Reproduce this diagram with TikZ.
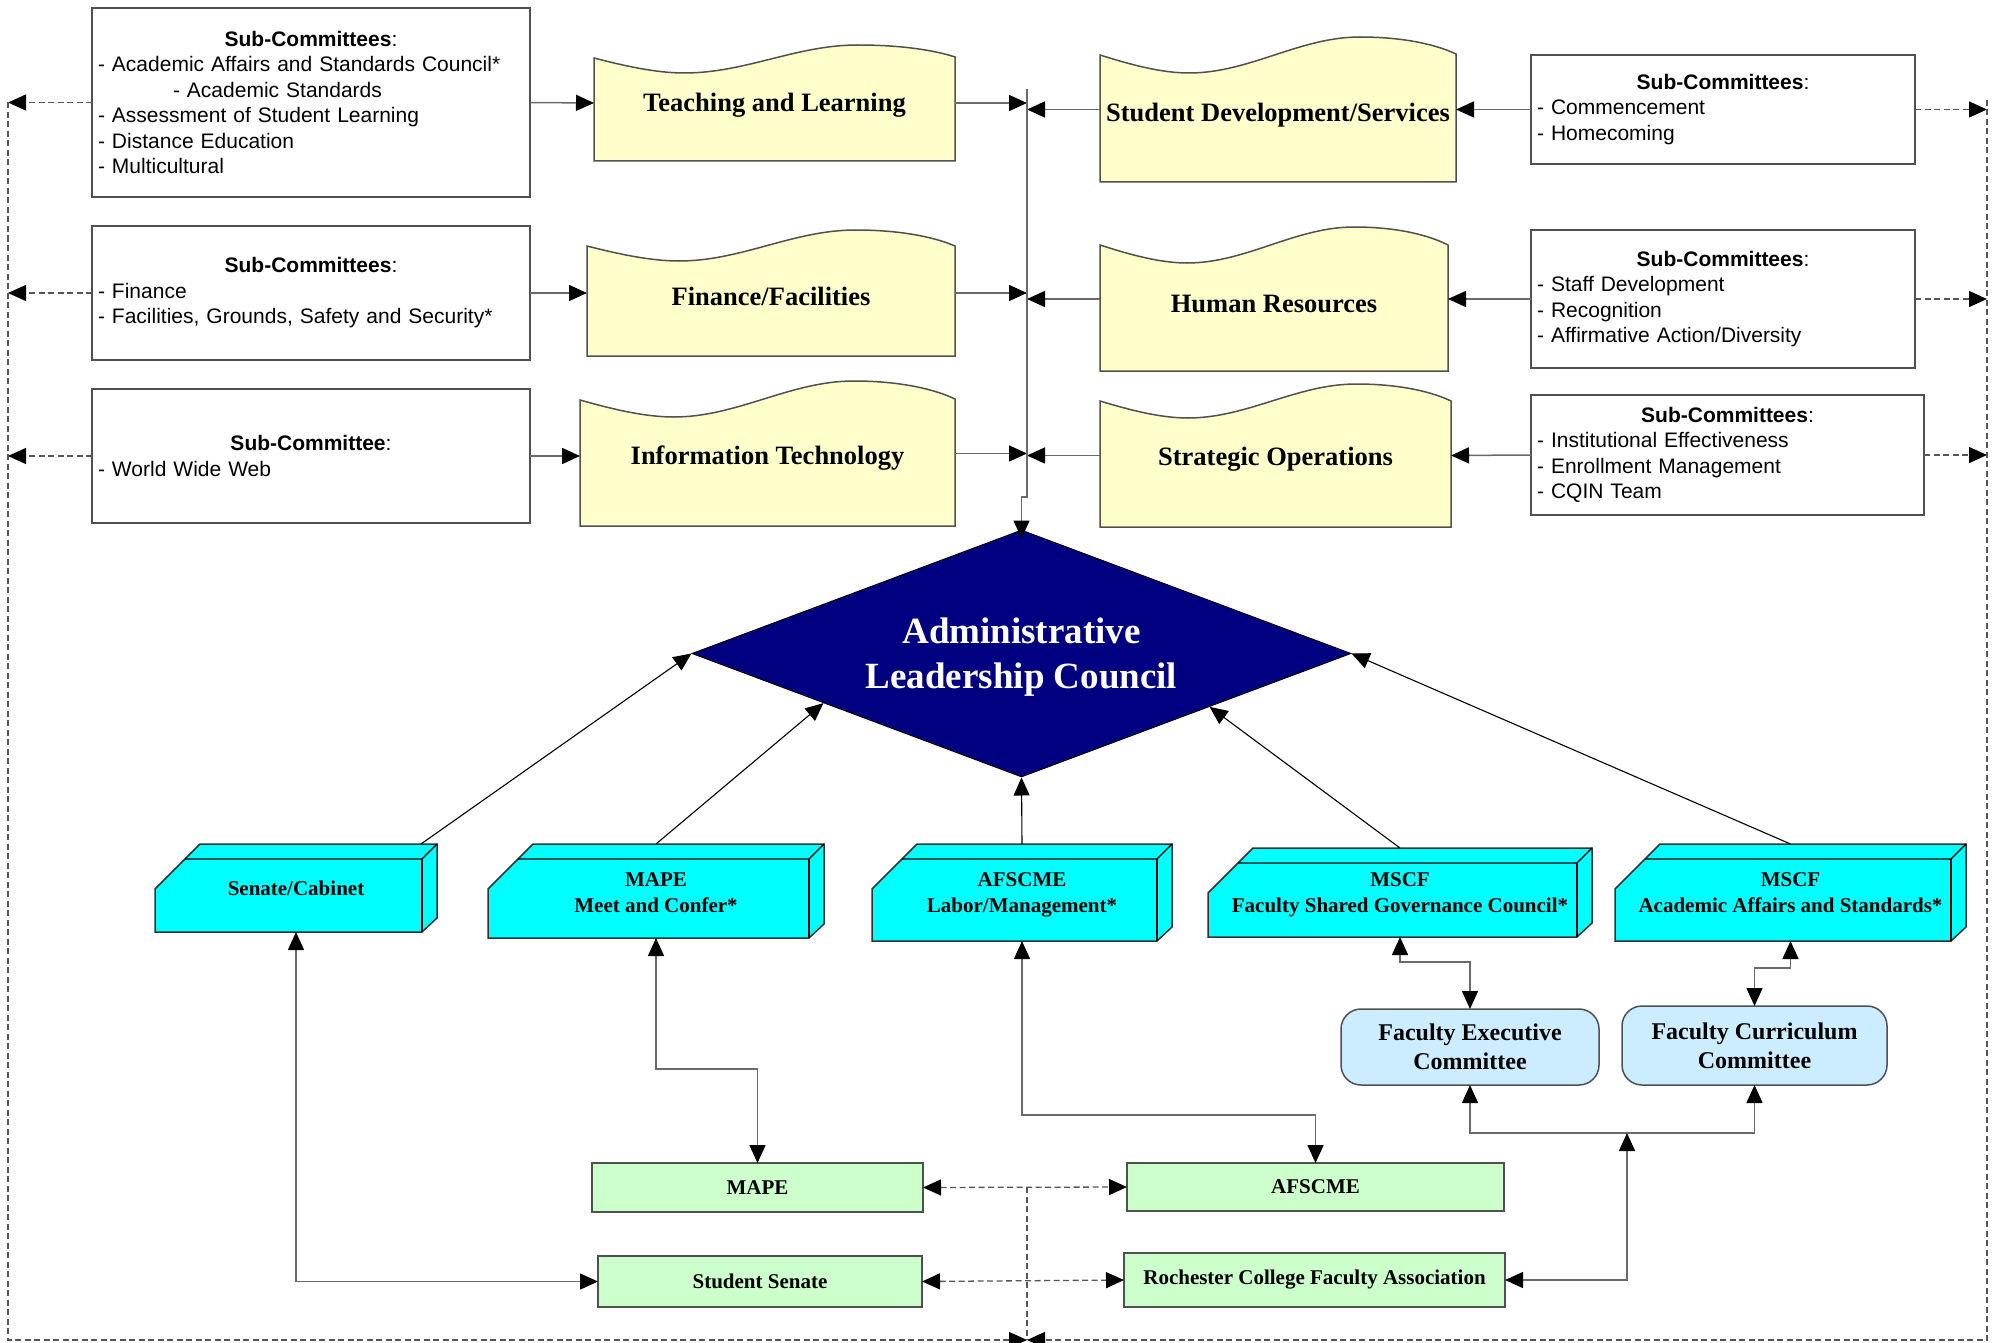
\documentclass[tikz,border=0pt]{standalone}
\usepackage{fontspec}
\setmainfont{Liberation Serif}
\newfontfamily\arialf{Liberation Sans}
\usetikzlibrary{arrows.meta,calc,shapes.geometric}
\definecolor{bord}{HTML}{505050}
\definecolor{connc}{HTML}{6A6A6A}
\definecolor{dashc}{HTML}{555555}
\definecolor{yel}{HTML}{FFFFCC}
\definecolor{cyanc}{HTML}{00FFFF}
\definecolor{navyc}{HTML}{000080}
\definecolor{greenc}{HTML}{CCFFCC}
\definecolor{bluec}{HTML}{CCECFF}

\newcommand\wavedraw[4]{%
\draw[wavestyle] (#1.south west) -- ($(#1.north west)+(0,#2)$)
 .. controls ($(#1.north west)!0.08!(#1.north east)+(0,{0.5*(#2+#3)})$) and ($(#1.north west)!0.17!(#1.north east)+(0,#3)$) .. ($(#1.north west)!0.25!(#1.north east)+(0,#3)$)
 .. controls ($(#1.north west)!0.42!(#1.north east)+(0,#3)$) and ($(#1.north west)!0.56!(#1.north east)$) .. ($(#1.north west)!0.73!(#1.north east)$)
 .. controls ($(#1.north west)!0.86!(#1.north east)$) and ($(#1.north west)!0.95!(#1.north east)+(0,{0.5*#4})$) .. ($(#1.north east)+(0,#4)$)
 -- (#1.south east) -- cycle;}

\newcommand\cubedraw[1]{%
\draw[cubestyle] (#1.south west) -- ($(#1.north west)+(0,45)$) -- ($(#1.north west)+(45,0)$) -- (#1.north east) -- ($(#1.south east)+(0,-14)$) -- ($(#1.south east)+(-15,0)$) -- cycle;
\draw[cubeinner] ($(#1.north west)+(30,15)$) -- ($(#1.north east)+(-15,15)$) -- (#1.north east);
\draw[cubeinner] ($(#1.north east)+(-15,15)$) -- ($(#1.south east)+(-15,0)$);}

\begin{document}
\begin{tikzpicture}[x=1pt,y=-1pt,
 >={Triangle[length=18pt,width=16pt,color=black]},
 geom/.style={rectangle,draw=none,inner sep=0pt,outer sep=0pt},
 subbox/.style={rectangle,draw=bord,line width=1.5pt,fill=white,inner sep=0pt,outer sep=0pt},
 subtext/.style={inner sep=0pt,align=left,text width=#1,font=\arialf\fontsize{21}{25.5}\selectfont},
 wavestyle/.style={draw=bord,line width=1.5pt,fill=yel},
 titletext/.style={inner sep=0pt,font=\bfseries\fontsize{26.5}{30}\selectfont},
 cubestyle/.style={draw=black!80,line width=1.5pt,fill=cyanc,line join=miter},
 cubeinner/.style={draw=black,line width=1.2pt},
 cubetext/.style={inner sep=0pt,align=center,font=\bfseries\fontsize{21}{26}\selectfont},
 greenbox/.style={rectangle,draw=bord,line width=1.5pt,fill=greenc,inner sep=0pt,outer sep=0pt,font=\bfseries\fontsize{21}{26}\selectfont},
 bluebox/.style={rectangle,rounded corners=20pt,draw=bord,line width=1.5pt,fill=bluec,inner sep=0pt,outer sep=0pt,align=center,font=\bfseries\fontsize{24}{29}\selectfont},
 conn/.style={draw=connc,line width=1.5pt},
 diagc/.style={draw=black,line width=1.1pt},
 dconn/.style={draw=dashc,line width=1.3pt,dash pattern=on 6pt off 3.5pt}
]
\useasboundingbox (0,0) rectangle (1997,1343);

% ---------- sub-committee boxes ----------
\node[subbox,minimum width=438pt,minimum height=189pt] (sb1) at (311,102.5) {};
\node[subtext=426pt] (sb1t) at (sb1) {\makebox[\hsize]{\textbf{Sub-Committees}:}\\
- Academic Affairs and Standards Council*\\
\hspace*{75pt}- Academic Standards\\
- Assessment of Student Learning\\
- Distance Education\\
- Multicultural};

\node[subbox,minimum width=438pt,minimum height=134pt] (sb2) at (311,293) {};
\node[subtext=426pt] (sb2t) at (sb2) {\makebox[\hsize]{\textbf{Sub-Committees}:}\\
- Finance\\
- Facilities, Grounds, Safety and Security*};

\node[subbox,minimum width=438pt,minimum height=134pt] (sb3) at (311,456) {};
\node[subtext=426pt] (sb3t) at (sb3) {\makebox[\hsize]{\textbf{Sub-Committee}:}\\
- World Wide Web};

\node[subbox,minimum width=384pt,minimum height=109pt] (sb4) at (1723,109.5) {};
\node[subtext=372pt] (sb4t) at (sb4) {\makebox[\hsize]{\textbf{Sub-Committees}:}\\
- Commencement\\
- Homecoming};

\node[subbox,minimum width=384pt,minimum height=138pt] (sb5) at (1723,299) {};
\node[subtext=372pt] (sb5t) at (sb5) {\makebox[\hsize]{\textbf{Sub-Committees}:}\\
- Staff Development\\
- Recognition\\
- Affirmative Action/Diversity};

\node[subbox,minimum width=393pt,minimum height=120pt] (sb6) at (1727.5,455) {};
\node[subtext=381pt] (sb6t) at (sb6) {\makebox[\hsize]{\textbf{Sub-Committees}:}\\
- Institutional Effectiveness\\
- Enrollment Management\\
- CQIN Team};

% ---------- wavy committee shapes ----------
\node[geom,minimum width=361pt,minimum height=116pt] (tl) at (774.5,103) {};
\wavedraw{tl}{13}{28}{12}
\node[titletext,yshift=-2pt] (tlt) at (tl) {Teaching and Learning};

\node[geom,minimum width=368pt,minimum height=126pt] (ff) at (771,293) {};
\wavedraw{ff}{16}{31}{16}
\node[titletext,yshift=-3pt] (fft) at (ff) {Finance/Facilities};

\node[geom,minimum width=375pt,minimum height=145pt] (it) at (767.5,453.5) {};
\wavedraw{it}{19}{36}{18}
\node[titletext,yshift=-5pt] (itt) at (it) {Information Technology};

\node[geom,minimum width=356pt,minimum height=145pt] (sds) at (1278,109.5) {};
\wavedraw{sds}{18}{36}{17}
\node[titletext,yshift=-6pt] (sdst) at (sds) {Student Development/Services};

\node[geom,minimum width=348pt,minimum height=144pt] (hr) at (1274,299) {};
\wavedraw{hr}{18}{36}{18}
\node[titletext,yshift=-5pt] (hrt) at (hr) {Human Resources};

\node[geom,minimum width=351pt,minimum height=143pt] (so) at (1275.5,455.5) {};
\wavedraw{so}{17}{34}{17}
\node[titletext,yshift=-4pt] (sot) at (so) {Strategic Operations};

% ---------- diamond ----------
\node[diamond,draw=black,fill=navyc,line width=1pt,aspect=2.67,minimum width=659pt,minimum height=247pt,inner sep=0pt] (alc) at (1021.5,653.5) {};
\node[inner sep=0pt,text=white,align=center,font=\bfseries\fontsize{37}{45}\selectfont,yshift=-4pt] (alct) at (alc) {Administrative\\Leadership Council};

% ---------- 3D cyan boxes ----------
\node[geom,minimum width=282pt,minimum height=88pt] (sc) at (296,888) {};
\cubedraw{sc}
\node[cubetext] (sct) at (sc) {Senate/Cabinet};

\node[geom,minimum width=336pt,minimum height=94pt] (mape) at (656,891) {};
\cubedraw{mape}
\node[cubetext,yshift=-2pt] (mapet) at (mape) {MAPE\\Meet and Confer*};

\node[geom,minimum width=300pt,minimum height=97pt] (afl) at (1022,892.5) {};
\cubedraw{afl}
\node[cubetext,yshift=-2pt] (aflt) at (afl) {AFSCME\\Labor/Management*};

\node[geom,minimum width=384pt,minimum height=89pt] (fsgc) at (1400,892.5) {};
\cubedraw{fsgc}
\node[cubetext,yshift=-2pt] (fsgct) at (fsgc) {MSCF\\Faculty Shared Governance Council*};

\node[geom,minimum width=351pt,minimum height=97pt] (aas) at (1790.5,892.5) {};
\cubedraw{aas}
\node[cubetext] (aast) at (aas) {MSCF\\Academic Affairs and Standards*};

% ---------- light blue committees ----------
\node[bluebox,minimum width=258pt,minimum height=76pt] (fec) at (1470,1047) {Faculty Executive\\Committee};
\node[bluebox,minimum width=265pt,minimum height=79pt] (fcc) at (1754.5,1045.5) {Faculty Curriculum\\Committee};

% ---------- green boxes ----------
\node[greenbox,minimum width=331pt,minimum height=49pt] (mapeg) at (757.5,1187.5) {MAPE};
\node[greenbox,minimum width=324pt,minimum height=51pt] (ssen) at (760,1281.5) {Student Senate};
\node[greenbox,minimum width=377pt,minimum height=48pt] (afg) at (1315.5,1187) {AFSCME};
\node[greenbox,minimum width=381pt,minimum height=54pt] (rcfa) at (1314.5,1280) {Rochester College Faculty Association};

% ---------- coordinates ----------
\coordinate (bus1) at (1027,89);
\coordinate (bus2) at (1027,497);
\coordinate (bus3) at (1021.5,497);
\coordinate (lt) at (8,102.5);
\coordinate (lb) at (8,1340);
\coordinate (rt) at (1987,100);
\coordinate (rb) at (1987,1340);
\coordinate (bm) at (1027,1340);
\coordinate (mm) at (1027,1187);
\coordinate (jfc) at (1627,1133);

% ---------- solid connectors, top ----------
\draw[conn,->] (sb1.east) -- (tl.west);
\draw[conn,->] (sb2.east) -- (ff.west);
\draw[conn,->] (sb3.east) -- (sb3.east -| it.west);
\draw[conn,->] (sb4.west) -- (sds.east);
\draw[conn,->] (sb5.west) -- (hr.east);
\draw[conn,->] (sb6.west) -- (so.east);
\draw[conn,->] (tl.east) -- (tl.east -| bus1);
\draw[conn,->] (ff.east) -- (ff.east -| bus1);
\draw[conn,->] (it.east) -- (it.east -| bus1);
\draw[conn,->] (sds.west) -- (sds.west -| bus1);
\draw[conn,->] (hr.west) -- (hr.west -| bus1);
\draw[conn,->] (so.west) -- (so.west -| bus1);
\draw[conn,->] (bus1) -- (bus2) -- (bus3) -- ($(alc.north)+(0,9)$);

% ---------- into the diamond ----------
\draw[diagc,->] ($(sc.north east)+(-16,0)$) -- (alc.west);
\draw[diagc,->] (mape.north) -- ($(alc.west)!0.4!(alc.south)$);
\draw[diagc,->] (afl.north) -- (alc.south);
\draw[diagc,->] (fsgc.north) -- ($(alc.east)!0.43!(alc.south)$);
\draw[diagc,->] (aas.north) -- (alc.east);

% ---------- lower connectors ----------
\draw[conn,<->] (sc.south) |- (ssen.west);
\draw[conn,<->] (mape.south) -- ++(0,131) -| (mapeg.north);
\draw[conn,<->] (afl.south) -- ++(0,174) -| (afg.north);
\draw[conn,<->] (fsgc.south) -- ++(0,25) -| (fec.north);
\draw[conn,<->] (aas.south) -- ++(0,27) -| (fcc.north);
\draw[conn,<->] (fec.south) -- ++(0,48) -| (fcc.south);
\draw[conn,<->] (rcfa.east) -| (jfc);

% ---------- dashed connectors ----------
\draw[dconn,->] (sb1.west) -- (sb1.west -| lt);
\draw[dconn,->] (sb2.west) -- (sb2.west -| lt);
\draw[dconn,->] (sb3.west) -- (sb3.west -| lt);
\draw[dconn,->] (sb4.east) -- (sb4.east -| rt);
\draw[dconn,->] (sb5.east) -- (sb5.east -| rt);
\draw[dconn,->] (sb6.east) -- (sb6.east -| rt);
\draw[dconn,->] (lt) -- (lb) -- (bm);
\draw[dconn,->] (rt) -- (rb) -- (bm);
\draw[dconn] (mm) -- (bm);
\draw[dconn,<->] (mapeg.east) -- (afg.west);
\draw[dconn,<->] (ssen.east) -- (rcfa.west);
\end{tikzpicture}
\end{document}
